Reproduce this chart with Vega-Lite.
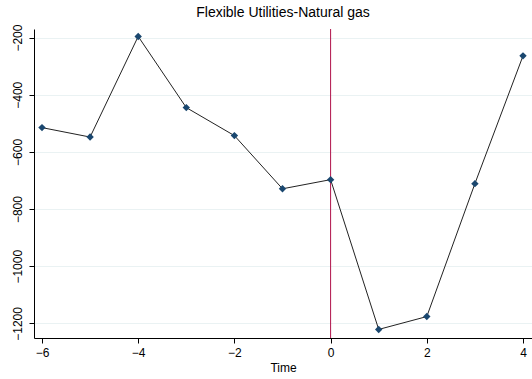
{
  "$schema": "https://vega.github.io/schema/vega-lite/v6.json",
  "width": 498,
  "height": 309,
  "autosize": {"type": "none"},
  "padding": {"left": 34, "top": 29, "right": 0, "bottom": 41},
  "background": "white",
  "title": {"text": "Flexible Utilities-Natural gas", "font": "Liberation Sans", "fontSize": 14, "fontWeight": "normal", "color": "#000000", "anchor": "middle", "offset": 4},
  "config": {"view": {"stroke": null}, "axis": {"labelFont": "Liberation Sans", "titleFont": "Liberation Sans", "labelColor": "#000000", "titleColor": "#000000", "domainColor": "#000000", "tickColor": "#000000"}},
  "data": {"values": [
    {"t": -6, "v": -515},
    {"t": -5, "v": -548},
    {"t": -4, "v": -196},
    {"t": -3, "v": -445},
    {"t": -2, "v": -543},
    {"t": -1, "v": -729},
    {"t": 0, "v": -697},
    {"t": 1, "v": -1221},
    {"t": 2, "v": -1176},
    {"t": 3, "v": -711},
    {"t": 4, "v": -264}
  ]},
  "encoding": {
    "x": {"field": "t", "type": "quantitative", "scale": {"domain": [-6.166, 4.187], "nice": false, "zero": false},
      "axis": {"title": "Time", "values": [-6, -4, -2, 0, 2, 4], "format": "d", "grid": false, "labelFontSize": 12, "titleFontSize": 12, "titleFontWeight": "normal", "tickSize": 5, "labelPadding": 4, "titlePadding": 4, "domainWidth": 1}},
    "y": {"field": "v", "type": "quantitative", "scale": {"domain": [-1251, -170], "nice": false, "zero": false},
      "axis": {"title": null, "values": [-1200, -1000, -800, -600, -400, -200], "format": "d", "grid": true, "gridColor": "#eaf2f3", "gridWidth": 1, "labelAngle": -90, "labelAlign": "center", "labelBaseline": "bottom", "labelFontSize": 12, "tickSize": 5, "labelPadding": 5, "domainWidth": 1}}
  },
  "layer": [
    {"mark": {"type": "rule", "color": "#b0124a", "strokeWidth": 1}, "data": {"values": [{"t": 0}]}, "encoding": {"x": {"field": "t", "type": "quantitative"}, "y": null}},
    {"mark": {"type": "line", "color": "#222222", "strokeWidth": 1}},
    {"mark": {"type": "point", "shape": "diamond", "filled": true, "color": "#1a476f", "size": 55, "opacity": 1}}
  ]
}
